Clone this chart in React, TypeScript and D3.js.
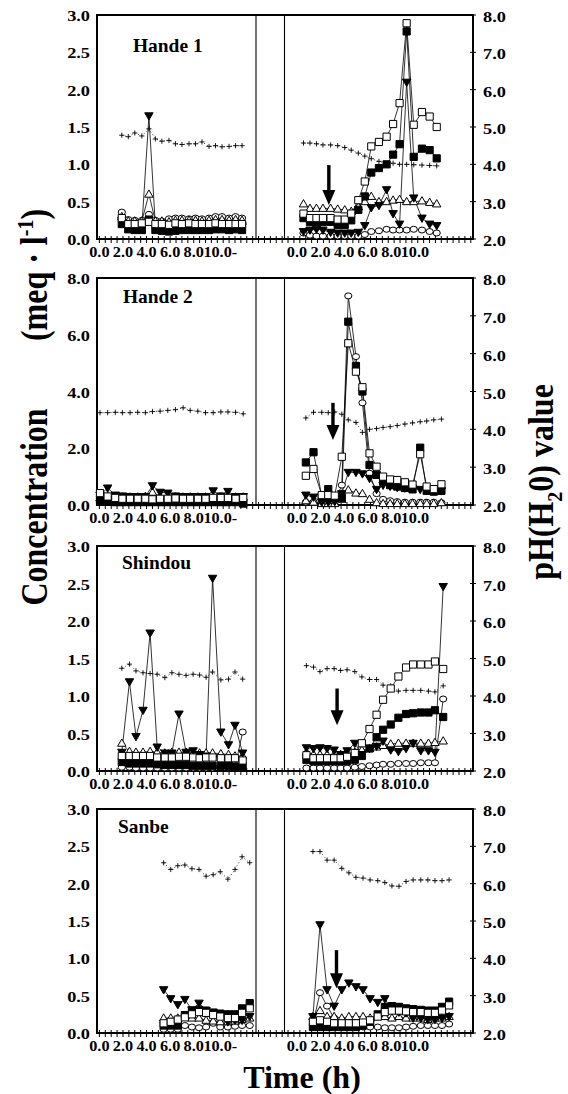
import React, { useEffect, useRef } from 'react';
import * as d3 from 'd3';

// ---- values ----
const panelNames = ['Hande 1', 'Hande 2', 'Shindou', 'Sanbe'];
const concMax = [3, 8, 3, 3];
const concTicks3 = [0, 0.5, 1, 1.5, 2, 2.5, 3];
const concTicks8 = [0, 2, 4, 6, 8];
const phTicks = [2, 3, 4, 5, 6, 7, 8];
const timeTicks = [0, 2, 4, 6, 8, 10];
const timeLabelsLeft = ['0.0', '2.0', '4.0', '6.0', '8.0', '10.0-'];
const timeLabelsRight = ['0.0', '2.0', '4.0', '6.0', '8.0', '10.0'];

// Hande 1, before the break
const h1aTime = [1.9, 2.45, 3.0, 3.6, 4.2, 4.75, 5.3, 5.9, 6.45, 7.0, 7.6, 8.15, 8.7, 9.3, 9.85, 10.4, 11.0, 11.55, 12.1];
const h1aPH = [4.78, 4.74, 4.84, 4.76, 4.95, 4.68, 4.62, 4.64, 4.55, 4.53, 4.55, 4.55, 4.6, 4.48, 4.5, 4.47, 4.48, 4.5, 4.5];
const h1aCircle = [0.36, 0.26, 0.25, 0.25, 0.33, 0.25, 0.24, 0.27, 0.28, 0.28, 0.27, 0.28, 0.27, 0.28, 0.3, 0.3, 0.28, 0.3, 0.28];
const h1aFilledSq = [0.2, 0.13, 0.12, 0.12, 0.26, 0.12, 0.11, 0.1, 0.11, 0.12, 0.12, 0.12, 0.12, 0.12, 0.13, 0.13, 0.12, 0.13, 0.12];
const h1aOpenSq = [0.28, 0.2, 0.2, 0.21, 0.23, 0.2, 0.2, 0.19, 0.21, 0.2, 0.21, 0.2, 0.2, 0.2, 0.21, 0.2, 0.2, 0.2, 0.2];
const h1aDownTri = [0.25, 0.18, 0.16, 0.16, 1.65, 0.17, 0.15, 0.14, 0.15, 0.16, 0.16, 0.15, 0.15, 0.16, 0.16, 0.16, 0.16, 0.16, 0.16];
const h1aUpTri = [0.3, 0.24, 0.24, 0.24, 0.6, 0.24, 0.24, 0.23, 0.25, 0.25, 0.25, 0.25, 0.24, 0.25, 0.26, 0.26, 0.25, 0.26, 0.25];

// Hande 1, after the break
const h1bTime = [0.55, 1.1, 1.65, 2.2, 2.85, 3.45, 4.05, 4.6, 5.2, 5.75, 6.3, 6.95, 7.6, 8.15, 8.7, 9.3, 9.9, 10.6, 11.25, 11.85];
const h1bPH = [4.57, 4.57, 4.55, 4.52, 4.52, 4.5, 4.45, 4.38, 4.3, 4.22, 4.15, 4.08, 4.02, 4.03, 4.0, 4.0, 3.99, 3.98, 3.97, 3.96];
const h1bCircle = [0.08, 0.05, 0.04, 0.04, 0.04, 0.04, 0.04, 0.04, 0.04, 0.06, 0.1, 0.11, 0.13, 0.12, 0.12, 0.12, 0.13, 0.12, 0.1, 0.08];
const h1bFilledSq = [0.28, 0.23, 0.23, 0.23, 0.23, 0.19, 0.19, 0.25, 0.39, 0.57, 0.89, 0.95, 1.0, 1.13, 1.27, 2.78, 1.1, 1.21, 1.19, 1.08];
const h1bOpenSq = [0.34, 0.28, 0.28, 0.28, 0.28, 0.26, 0.26, 0.34, 0.52, 0.77, 1.24, 1.3, 1.37, 1.54, 1.82, 2.89, 1.53, 1.7, 1.64, 1.5];
const h1bDownTri = [0.1, 0.12, 0.13, 0.12, 0.09, 0.08, 0.08, 0.08, 0.09, 0.18, 0.42, 0.45, 0.66, 0.34, 0.2, 2.1, 0.55, 0.28, 0.2, 0.18];
const h1bUpTri = [0.47, 0.41, 0.41, 0.41, 0.41, 0.4, 0.39, 0.37, 0.43, 0.5, 0.57, 0.5, 0.5, 0.52, 0.53, 0.5, 0.5, 0.51, 0.49, 0.47];

// Hande 2, before the break
const h2aTime = [0.05, 0.7, 1.35, 1.95, 2.6, 3.25, 3.9, 4.5, 5.15, 5.8, 6.45, 7.1, 7.7, 8.35, 9.0, 9.65, 10.3, 10.9, 11.55, 12.2];
const h2aPH = [4.44, 4.44, 4.45, 4.44, 4.44, 4.45, 4.44, 4.47, 4.48, 4.5, 4.52, 4.57, 4.5, 4.48, 4.44, 4.44, 4.46, 4.46, 4.45, 4.41];
const h2aCircle = [0.3, 0.2, 0.15, 0.12, 0.12, 0.12, 0.12, 0.12, 0.12, 0.12, 0.12, 0.12, 0.12, 0.12, 0.12, 0.12, 0.12, 0.12, 0.12, 0.12];
const h2aFilledSq = [0.15, 0.12, 0.1, 0.1, 0.1, 0.1, 0.1, 0.1, 0.1, 0.1, 0.1, 0.1, 0.1, 0.1, 0.1, 0.1, 0.1, 0.1, 0.1, 0.05];
const h2aOpenSq = [0.42, 0.3, 0.25, 0.22, 0.22, 0.22, 0.22, 0.2, 0.22, 0.22, 0.23, 0.22, 0.22, 0.22, 0.22, 0.25, 0.25, 0.25, 0.22, 0.25];
const h2aDownTri = [0.35, 0.6, 0.35, 0.32, 0.3, 0.3, 0.3, 0.68, 0.45, 0.42, 0.32, 0.3, 0.3, 0.3, 0.3, 0.5, 0.32, 0.48, 0.3, 0.3];
const h2aUpTri = [0.25, 0.3, 0.28, 0.28, 0.28, 0.28, 0.3, 0.45, 0.3, 0.28, 0.28, 0.28, 0.28, 0.28, 0.28, 0.28, 0.28, 0.28, 0.28, 0.28];

// Hande 2, after the break
const h2bTime = [0.75, 1.4, 2.1, 2.65, 3.2, 3.8, 4.35, 5.0, 5.55, 6.15, 6.75, 7.3, 7.9, 8.5, 9.15, 9.8, 10.45, 11.0, 11.6, 12.25];
const h2bPH = [4.3, 4.45, 4.45, 4.44, 4.46, 4.4, 4.25, 4.18, 3.92, 4.0, 4.02, 4.05, 4.07, 4.1, 4.14, 4.17, 4.2, 4.22, 4.25, 4.27];
const h2bCircle = [0.1, 0.1, 0.08, 0.08, 0.1, 0.7, 7.37, 5.23, 3.6, 1.12, 0.4, 0.2, 0.15, 0.12, 0.1, 0.1, 0.1, 0.1, 0.1, 0.08];
const h2bFilledSq = [1.5, 1.86, 0.3, 0.56, 0.25, 0.25, 6.46, 4.9, 4.0, 1.41, 1.06, 0.82, 0.7, 0.65, 0.6, 0.55, 2.02, 0.5, 0.47, 0.5];
const h2bOpenSq = [1.03, 1.27, 0.35, 0.35, 0.33, 1.7, 5.7, 4.7, 4.15, 1.82, 1.35, 1.0, 0.9, 0.88, 0.8, 0.72, 1.79, 0.65, 0.56, 0.73];
const h2bDownTri = [0.35, 0.28, 0.1, 0.1, 0.12, 0.4, 1.15, 1.15, 1.1, 0.94, 0.55, 0.7, 0.66, 0.62, 0.6, 0.58, 0.55, 0.55, 0.5, 0.5];
const h2bUpTri = [0.15, 0.1, 0.05, 0.05, 0.05, 0.2, 0.53, 0.42, 0.4, 0.2, 0.08, 0.05, 0.05, 0.05, 0.05, 0.05, 0.05, 0.05, 0.05, 0.08];

// Shindou, before the break
const h3aTime = [1.9, 2.55, 3.1, 3.7, 4.3, 4.9, 5.55, 6.15, 6.75, 7.35, 7.95, 8.5, 9.05, 9.6, 10.3, 10.95, 11.5, 12.15];
const h3aPH = [4.74, 4.85, 4.67, 4.62, 4.6, 4.58, 4.49, 4.62, 4.58, 4.55, 4.58, 4.56, 4.5, 4.64, 4.43, 4.45, 4.64, 4.45];
const h3aCircle = [0.05, 0.05, 0.04, 0.04, 0.04, 0.04, 0.04, 0.04, 0.04, 0.04, 0.04, 0.04, 0.04, 0.04, 0.05, 0.05, 0.05, 0.52];
const h3aFilledSq = [0.12, 0.1, 0.1, 0.1, 0.1, 0.09, 0.08, 0.08, 0.08, 0.08, 0.07, 0.07, 0.07, 0.07, 0.07, 0.07, 0.06, 0.06];
const h3aOpenSq = [0.2, 0.2, 0.2, 0.2, 0.2, 0.18, 0.18, 0.18, 0.19, 0.19, 0.18, 0.17, 0.18, 0.18, 0.17, 0.17, 0.17, 0.14];
const h3aDownTri = [0.25, 1.19, 0.46, 0.81, 1.84, 0.32, 0.24, 0.24, 0.76, 0.25, 0.27, 0.22, 0.2, 2.57, 0.52, 0.35, 0.61, 0.24];
const h3aUpTri = [0.37, 0.26, 0.25, 0.25, 0.26, 0.25, 0.24, 0.25, 0.25, 0.25, 0.24, 0.24, 0.24, 0.24, 0.23, 0.22, 0.2, 0.2];

// Shindou, after the break
const h3bTime = [0.8, 1.4, 1.95, 2.55, 3.15, 3.7, 4.25, 4.9, 5.5, 6.15, 6.75, 7.3, 7.95, 8.6, 9.25, 9.85, 10.5, 11.15, 11.7, 12.4];
const h3bPH = [4.81, 4.77, 4.65, 4.73, 4.73, 4.68, 4.7, 4.65, 4.51, 4.44, 4.44, 4.29, 4.27, 4.13, 4.15, 4.15, 4.15, 4.13, 4.11, 4.27];
const h3bCircle = [0.04, 0.04, 0.04, 0.04, 0.04, 0.04, 0.04, 0.05, 0.06, 0.07, 0.08, 0.09, 0.09, 0.1, 0.1, 0.1, 0.11, 0.11, 0.11, 0.96];
const h3bFilledSq = [0.15, 0.13, 0.13, 0.13, 0.13, 0.13, 0.13, 0.15, 0.2, 0.3, 0.45, 0.55, 0.62, 0.71, 0.76, 0.77, 0.78, 0.78, 0.81, 0.72];
const h3bOpenSq = [0.21, 0.17, 0.17, 0.17, 0.17, 0.17, 0.19, 0.24, 0.37, 0.56, 0.75, 0.95, 1.1, 1.26, 1.38, 1.42, 1.42, 1.42, 1.46, 1.36];
const h3bDownTri = [0.31, 0.3, 0.31, 0.3, 0.28, 0.22, 0.27, 0.37, 0.22, 0.3, 0.33, 0.4, 0.28, 0.26, 0.3, 0.37, 0.27, 0.27, 0.25, 2.46];
const h3bUpTri = [0.25, 0.22, 0.22, 0.22, 0.22, 0.22, 0.23, 0.25, 0.28, 0.3, 0.32, 0.34, 0.36, 0.37, 0.37, 0.37, 0.37, 0.37, 0.38, 0.4];

// Sanbe, before the break
const h4aTime = [5.45, 6.05, 6.65, 7.25, 7.85, 8.45, 9.05, 9.65, 10.25, 10.9, 11.5, 12.1, 12.75];
const h4aPH = [6.56, 6.38, 6.48, 6.5, 6.4, 6.38, 6.2, 6.24, 6.32, 6.12, 6.38, 6.72, 6.56];
const h4aCircle = [0.05, 0.05, 0.05, 0.1, 0.08, 0.07, 0.08, 0.13, 0.08, 0.08, 0.09, 0.1, 0.1];
const h4aFilledSq = [0.1, 0.1, 0.1, 0.24, 0.3, 0.31, 0.3, 0.27, 0.26, 0.25, 0.25, 0.33, 0.4];
const h4aOpenSq = [0.13, 0.15, 0.18, 0.21, 0.25, 0.28, 0.27, 0.24, 0.22, 0.2, 0.2, 0.27, 0.33];
const h4aDownTri = [0.58, 0.46, 0.38, 0.45, 0.31, 0.4, 0.3, 0.28, 0.25, 0.15, 0.17, 0.17, 0.22];
const h4aUpTri = [0.2, 0.2, 0.2, 0.22, 0.2, 0.2, 0.17, 0.16, 0.15, 0.15, 0.16, 0.18, 0.2];

// Sanbe, after the break
const h4bTime = [1.35, 1.95, 2.55, 3.15, 3.8, 4.4, 5.0, 5.6, 6.2, 6.85, 7.45, 8.05, 8.65, 9.25, 9.85, 10.5, 11.1, 11.7, 12.3, 12.9];
const h4bPH = [6.86, 6.86, 6.63, 6.63, 6.41, 6.29, 6.17, 6.15, 6.1, 6.08, 6.03, 5.94, 5.93, 6.06, 6.1, 6.1, 6.1, 6.08, 6.08, 6.1];
const h4bCircle = [0.12, 0.54, 0.36, 0.2, 0.12, 0.1, 0.08, 0.08, 0.08, 0.08, 0.07, 0.07, 0.07, 0.08, 0.09, 0.1, 0.1, 0.1, 0.1, 0.12];
const h4bFilledSq = [0.08, 0.08, 0.08, 0.08, 0.08, 0.08, 0.08, 0.1, 0.15, 0.25, 0.35, 0.36, 0.35, 0.33, 0.32, 0.31, 0.3, 0.3, 0.35, 0.42];
const h4bOpenSq = [0.15, 0.17, 0.15, 0.13, 0.13, 0.13, 0.13, 0.14, 0.17, 0.22, 0.28, 0.3, 0.3, 0.29, 0.28, 0.28, 0.27, 0.27, 0.3, 0.37];
const h4bDownTri = [0.22, 1.45, 0.58, 0.36, 0.58, 0.67, 0.62, 0.58, 0.46, 0.41, 0.46, 0.3, 0.28, 0.27, 0.2, 0.2, 0.18, 0.18, 0.2, 0.22];
const h4bUpTri = [0.22, 0.3, 0.22, 0.22, 0.2, 0.22, 0.22, 0.22, 0.2, 0.22, 0.22, 0.2, 0.22, 0.2, 0.2, 0.2, 0.18, 0.2, 0.2, 0.22];

// arrows (time after the break, concentration from -> to)
const arrowTime = [2.7, 3.05, 3.4, 3.35];
const arrowFrom = [0.99, 3.6, 1.1, 1.11];
const arrowTo = [0.455, 2.29, 0.61, 0.6];

const panels = [
  { conc: concTicks3, sections: [
    { time: h1aTime, ph: h1aPH, circle: h1aCircle, upTri: h1aUpTri, downTri: h1aDownTri, filledSq: h1aFilledSq, openSq: h1aOpenSq },
    { time: h1bTime, ph: h1bPH, circle: h1bCircle, upTri: h1bUpTri, downTri: h1bDownTri, filledSq: h1bFilledSq, openSq: h1bOpenSq },
  ] },
  { conc: concTicks8, sections: [
    { time: h2aTime, ph: h2aPH, circle: h2aCircle, upTri: h2aUpTri, downTri: h2aDownTri, filledSq: h2aFilledSq, openSq: h2aOpenSq },
    { time: h2bTime, ph: h2bPH, circle: h2bCircle, upTri: h2bUpTri, downTri: h2bDownTri, filledSq: h2bFilledSq, openSq: h2bOpenSq },
  ] },
  { conc: concTicks3, sections: [
    { time: h3aTime, ph: h3aPH, circle: h3aCircle, upTri: h3aUpTri, downTri: h3aDownTri, filledSq: h3aFilledSq, openSq: h3aOpenSq },
    { time: h3bTime, ph: h3bPH, circle: h3bCircle, upTri: h3bUpTri, downTri: h3bDownTri, filledSq: h3bFilledSq, openSq: h3bOpenSq },
  ] },
  { conc: concTicks3, sections: [
    { time: h4aTime, ph: h4aPH, circle: h4aCircle, upTri: h4aUpTri, downTri: h4aDownTri, filledSq: h4aFilledSq, openSq: h4aOpenSq },
    { time: h4bTime, ph: h4bPH, circle: h4bCircle, upTri: h4bUpTri, downTri: h4bDownTri, filledSq: h4bFilledSq, openSq: h4bOpenSq },
  ] },
];

// ---- layout ----
const W = 568;
const H = 1094;
const FRAME_LEFT = 97;
const FRAME_RIGHT = 473;
const DIVIDERS = [256, 284.5];
const PANEL_TOP = [15, 278, 546, 809];
const PANEL_BOTTOM = [239, 505, 771, 1033];
const TITLE_X = [133, 123, 122, 118];
const TITLE_Y = [52, 303, 569, 833];
const RIGHT_OFFSET = 16.76; // axis hours between the two time origins
const FONT = "'Liberation Serif', 'Times New Roman', serif";
const STRETCH = 1.22; // the scan is wider than it is tall

const SHAPES: Record<string, { d: string; fill: string }> = {
  circle: { d: 'M-3.6,0A3.6,3,0,1,0,3.6,0A3.6,3,0,1,0,-3.6,0Z', fill: '#fff' },
  upTri: { d: 'M0,-4.3L4.2,3H-4.2Z', fill: '#fff' },
  downTri: { d: 'M0,4.3L4.2,-3H-4.2Z', fill: '#000' },
  filledSq: { d: 'M-3.6,-3.6H3.6V3.6H-3.6Z', fill: '#000' },
  openSq: { d: 'M-3.6,-3.6H3.6V3.6H-3.6Z', fill: '#fff' },
};
const SERIES_ORDER = ['circle', 'upTri', 'downTri', 'filledSq', 'openSq'];

// stretched bold serif label
const addLabel = (g: any, x: number, y: number, txt: string, anchor: string, size: number, sx = STRETCH) =>
  g.append('text')
    .attr('transform', `translate(${x},${y}) scale(${sx},1)`)
    .attr('text-anchor', anchor)
    .style('font', `bold ${size}px ${FONT}`)
    .text(txt);

const App = () => {
  const svgRef = useRef<SVGSVGElement | null>(null);

  useEffect(() => {
    if (!svgRef.current) return;
    const svg = d3.select(svgRef.current);
    svg.selectAll('*').remove();
    svg.append('rect').attr('width', W).attr('height', H).attr('fill', '#fff');

    const x = d3.scaleLinear().domain([0, 10]).range([99.4, 217.3]);
    const axisTicks = d3.range(0, 31.75, 0.5);

    panels.forEach((p, i) => {
      const top = PANEL_TOP[i];
      const bottom = PANEL_BOTTOM[i];
      const yC = d3.scaleLinear().domain([0, concMax[i]]).range([bottom, top]);
      const yPH = d3.scaleLinear().domain([2, 8]).range([bottom, top]);
      const g = svg.append('g');

      // frame and break lines
      g.append('rect')
        .attr('x', FRAME_LEFT).attr('y', top)
        .attr('width', FRAME_RIGHT - FRAME_LEFT).attr('height', bottom - top)
        .attr('fill', 'none').attr('stroke', '#000').attr('stroke-width', 2);
      DIVIDERS.forEach(dx => {
        g.append('line')
          .attr('x1', dx).attr('x2', dx).attr('y1', top).attr('y2', bottom)
          .attr('stroke', '#000').attr('stroke-width', 1.1);
      });

      // time ticks along the bottom
      g.selectAll('.tick')
        .data(axisTicks)
        .enter().append('line')
        .attr('x1', d => x(d)).attr('x2', d => x(d))
        .attr('y1', bottom - 3).attr('y2', bottom + 4)
        .attr('stroke', '#000').attr('stroke-width', 1);

      timeTicks.forEach((t, k) => {
        const lbl = timeLabelsLeft[k];
        addLabel(g, x(t) + (lbl.endsWith('-') ? 3 : 0), bottom + 18, lbl, 'middle', 14.5, 1.12);
        addLabel(g, x(t + RIGHT_OFFSET), bottom + 18, timeLabelsRight[k], 'middle', 14.5, 1.12);
      });

      // concentration axis (left)
      p.conc.forEach(v => addLabel(g, 90, yC(v) + 6, v.toFixed(1), 'end', 15));

      // pH axis (right)
      phTicks.forEach(v => {
        g.append('line')
          .attr('x1', FRAME_RIGHT - 3).attr('x2', FRAME_RIGHT + 3)
          .attr('y1', yPH(v)).attr('y2', yPH(v))
          .attr('stroke', '#000').attr('stroke-width', 1);
        addLabel(g, 483, yPH(v) + 7, v.toFixed(1), 'start', 15);
      });

      // site name
      addLabel(g, TITLE_X[i], TITLE_Y[i], panelNames[i], 'start', 18, 1.08);

      p.sections.forEach((s: any, si: number) => {
        const off = si === 0 ? 0 : RIGHT_OFFSET;
        const sx = (k: number) => x(s.time[k] + off);

        // connecting lines
        SERIES_ORDER.forEach(key => {
          const line = d3.line<number>()
            .x((_, k) => sx(k))
            .y(v => yC(v));
          g.append('path')
            .attr('d', line(s[key]))
            .attr('fill', 'none').attr('stroke', '#000').attr('stroke-width', 0.8);
        });

        // pH: dotted line with + markers
        const phLine = d3.line<number>().x((_, k) => sx(k)).y(v => yPH(v));
        g.append('path')
          .attr('d', phLine(s.ph))
          .attr('fill', 'none').attr('stroke', '#000')
          .attr('stroke-width', 0.8).attr('stroke-dasharray', '1,2.5');
        g.selectAll(null)
          .data(s.ph as number[])
          .enter().append('path')
          .attr('d', 'M-2.6,0H2.6M0,-2.6V2.6')
          .attr('transform', (v, k) => `translate(${sx(k)},${yPH(v)})`)
          .attr('stroke', '#000').attr('stroke-width', 0.9);

        // concentration markers
        SERIES_ORDER.forEach(key => {
          g.selectAll(null)
            .data(s[key] as number[])
            .enter().append('path')
            .attr('d', SHAPES[key].d)
            .attr('transform', (v, k) => `translate(${sx(k)},${yC(v)})`)
            .attr('fill', SHAPES[key].fill)
            .attr('stroke', '#000').attr('stroke-width', 1);
        });
      });

      // arrow marking the treatment
      const ax = x(arrowTime[i] + RIGHT_OFFSET);
      const ay0 = yC(arrowFrom[i]);
      const ay1 = yC(arrowTo[i]);
      g.append('line')
        .attr('x1', ax).attr('x2', ax).attr('y1', ay0).attr('y2', ay1 - 12)
        .attr('stroke', '#000').attr('stroke-width', 3.4);
      g.append('path')
        .attr('d', `M${ax - 6.5},${ay1 - 15}L${ax + 6.5},${ay1 - 15}L${ax},${ay1}Z`)
        .attr('fill', '#000');
    });

    // axis titles
    svg.append('text')
      .attr('transform', 'translate(47,507) scale(1.2,1) rotate(-90)')
      .attr('text-anchor', 'middle')
      .style('font', `bold 32px ${FONT}`)
      .text('Concentration');

    const unit = svg.append('text')
      .attr('transform', 'translate(47,275) scale(1.2,1) rotate(-90)')
      .attr('text-anchor', 'middle')
      .style('font', `bold 32px ${FONT}`);
    unit.append('tspan').text('(meq \u00b7 l');
    unit.append('tspan').attr('dy', -12).style('font-size', '20px').text('-1');
    unit.append('tspan').attr('dy', 12).text(')');

    const ph = svg.append('text')
      .attr('transform', 'translate(553,482) scale(1.1,1) rotate(-90)')
      .attr('text-anchor', 'middle')
      .style('font', `bold 32px ${FONT}`);
    ph.append('tspan').text('pH(H');
    ph.append('tspan').attr('dy', 8).style('font-size', '20px').text('2');
    ph.append('tspan').attr('dy', -8).text('0) value');

    svg.append('text')
      .attr('x', 302).attr('y', 1088)
      .attr('text-anchor', 'middle')
      .style('font', `bold 32px ${FONT}`)
      .text('Time (h)');
  }, []);

  return (
    <svg
      ref={svgRef}
      width={W}
      height={H}
      style={{ position: 'absolute', left: 0, top: 0 }}
    />
  );
};

export default App;
